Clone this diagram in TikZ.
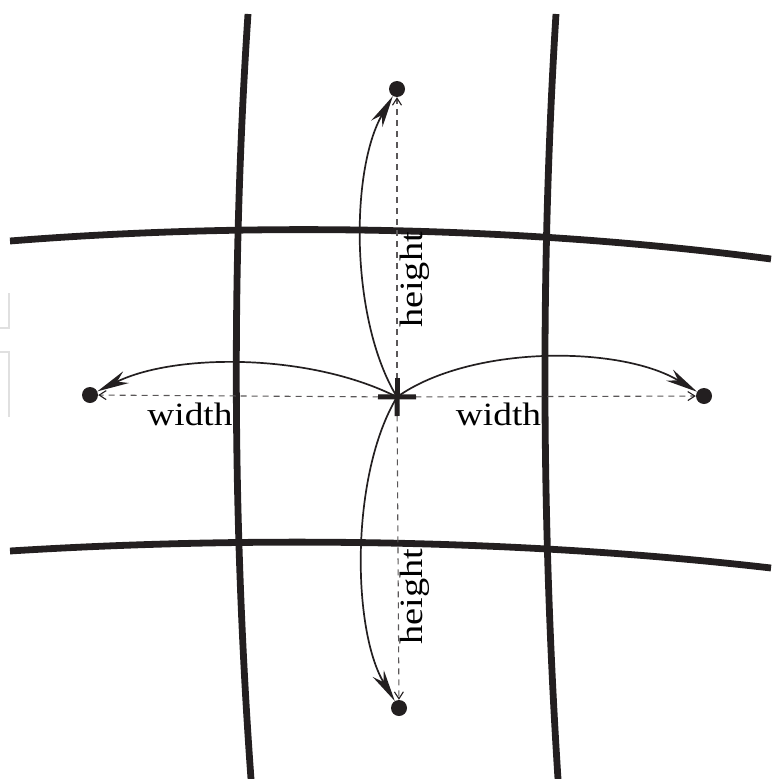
\documentclass[tikz,border=0pt]{standalone}
\usepackage{fontspec}
\setmainfont{Liberation Serif}
\usetikzlibrary{arrows.meta}
\definecolor{ink}{HTML}{231F20}
\begin{document}
\begin{tikzpicture}[x=1pt,y=-1pt,
  gridline/.style={line width=6.8pt, draw=ink},
  dot/.style={circle, fill=ink, inner sep=0pt, minimum size=16pt},
  arcarrow/.style={line width=1.7pt, draw=ink, -{Stealth[length=32pt,width=13pt,inset=10pt]}},
  dimline/.style={line width=1.1pt, draw=ink!75, dash pattern=on 6pt off 5pt,
    {Rectangle[length=19pt,width=5pt,color=ink]}-{Straight Barb[length=7pt,width=9pt,color=ink]}},
  lbl/.style={font=\fontsize{32.5}{36}\selectfont, inner sep=0pt, text=black},
  faint/.style={draw=black!12, line width=1.5pt}]
\useasboundingbox (0,0) rectangle (771,779);
% faint marks at left edge
\draw[faint] (0,328) -- (9,328) -- (9,293);
\draw[faint] (0,352) -- (9,352) -- (9,417);
% grid lines
\draw[gridline] (248,14) .. controls (231,270) and (233,530) .. (251,779);
\draw[gridline] (556,14) .. controls (540,270) and (542,530) .. (558,779);
\draw[gridline] (10,241) .. controls (250,222) and (520,226) .. (771,259);
\draw[gridline] (10,551) .. controls (250,536) and (520,539) .. (771,568);
% points
\coordinate (C) at (397,397);
\node[dot] (T) at (397,89) {};
\node[dot] (B) at (399,708) {};
\node[dot] (L) at (90,395) {};
\node[dot] (R) at (704,396) {};
% dashed dimension lines
\draw[dimline] (C) -- (T);
\draw[dimline] (C) -- (B);
\draw[dimline] (C) -- (L);
\draw[dimline] (C) -- (R);
% curved arrows
\draw[arcarrow] (C) .. controls (350,320) and (350,170) .. (T);
\draw[arcarrow] (C) .. controls (350,475) and (352,630) .. (B);
\draw[arcarrow] (C) .. controls (310,353) and (175,353) .. (L);
\draw[arcarrow] (C) .. controls (470,345) and (620,345) .. (R);
% labels
\node[lbl, anchor=base] (wl) at (190,425) {\scalebox{1.15}[1]{width}};
\node[lbl, anchor=base] (wr) at (498.5,425) {\scalebox{1.15}[1]{width}};
\node[lbl, rotate=90, anchor=base] (ht) at (422,280) {\scalebox{1.18}[1]{height}};
\node[lbl, rotate=90, anchor=base] (hb) at (422,596.5) {\scalebox{1.18}[1]{height}};
\end{tikzpicture}
\end{document}
